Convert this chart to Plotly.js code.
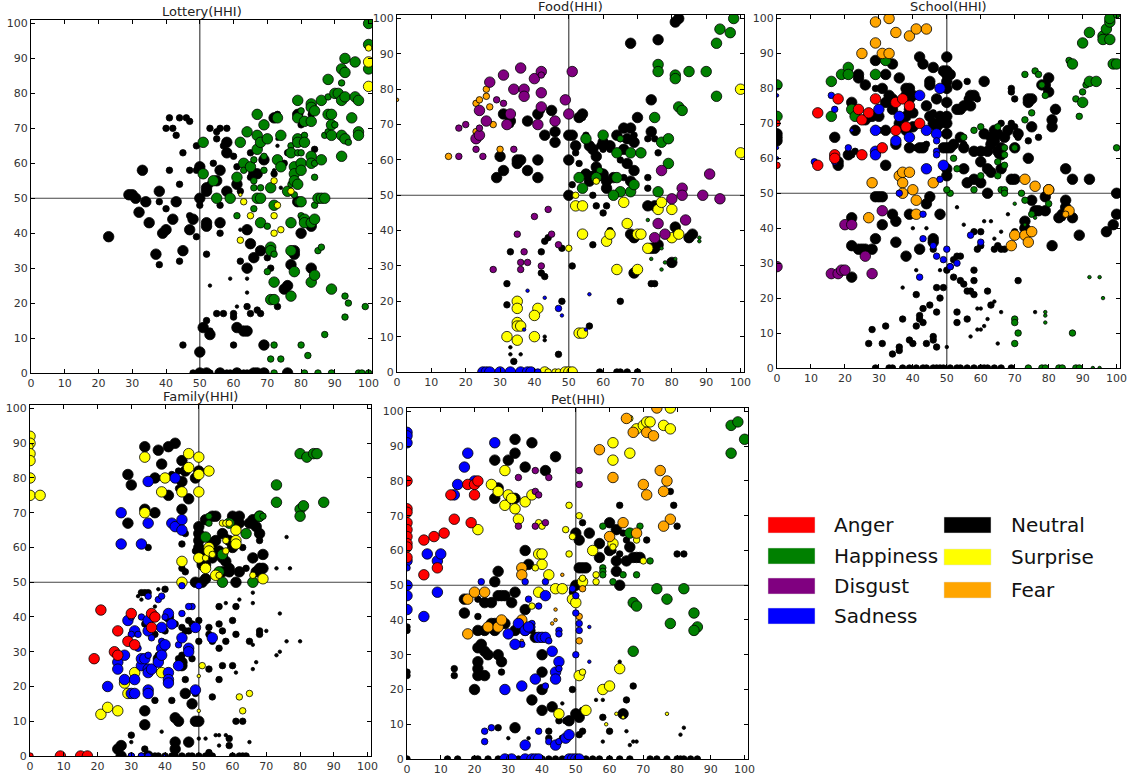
<!DOCTYPE html>
<html>
<head>
<meta charset="utf-8">
<script src="https://cdn.plot.ly/plotly-3.0.1.min.js"></script>
<style>
  body { margin: 0; background: #fff; }
  #graph { width: 1130px; height: 781px; }
</style>
</head>
<body>
<div id="graph"></div>
<script>
// Emotion categories and their colours
const emotions = ['Anger', 'Happiness', 'Disgust', 'Sadness', 'Neutral', 'Surprise', 'Fear'];
const emotionColors = ['#ff0000', '#008000', '#800080', '#0000ff', '#000000', '#ffff00', '#ffa500'];

// Each point: [x HHI, y HHI, size class 1..3]

// Lottery
const lotteryNeutral = [[23,39,3],[29,51,3],[30,51,3],[31,50,3],[32,46,3],[33,58,3],[34,49,3],[35,43,3],[37,34,3],[38,52,3],[38,49,2],[38,31,2],[39,40,3],[40,41,3],[40,70,2],[40,47,2],[41,73,2],[41,58,2],[42,44,3],[42,70,2],[43,49,3],[43,68,2],[44,73,2],[44,54,2],[44,32,2],[45,63,2],[45,35,3],[45,8,2],[46,73,2],[47,72,2],[47,58,2],[47,45,2],[47,41,3],[48,44,3],[49,58,2],[49,65,2],[49,39,2],[50,59,3],[50,50,3],[50,48,2],[50,6,3],[51,13,3],[52,15,2],[52,52,3],[52,53,3],[52,43,3],[52,42,3],[52,34,2],[53,11,3],[53,12,2],[53,70,2],[53,54,2],[54,60,2],[55,55,3],[55,17,2],[55,69,2],[55,67,2],[56,58,3],[56,70,2],[56,43,3],[56,40,2],[56,48,2],[57,65,2],[57,17,2],[58,66,3],[58,63,3],[58,52,3],[58,70,2],[60,62,2],[60,17,2],[60,16,2],[60,8,2],[61,54,3],[61,59,2],[61,13,3],[62,32,2],[62,52,2],[63,12,3],[64,12,3],[64,41,3],[64,30,3],[64,19,2],[65,63,2],[65,56,2],[65,37,3],[65,17,2],[66,57,3],[66,33,3],[67,57,3],[67,18,2],[68,35,3],[68,17,2],[69,61,3],[69,8,3],[70,33,2],[71,30,2],[72,73,3],[72,57,2],[73,74,2],[73,19,2],[75,60,2],[75,24,3],[76,63,2],[76,25,3],[77,31,3],[78,34,3],[78,35,3],[79,74,3],[80,71,2],[79,49,3],[80,40,3],[83,30,3],[83,42,3],[83,74,2],[84,64,2],[48,0,2],[50,0,3],[51,0,2],[52,0,3],[53,0,2],[56,0,3],[58,0,2],[59,0,2],[61,0,3],[63,0,2],[64,0,2],[65,0,2],[66,0,3],[67,0,3],[68,0,2],[69,0,3],[76,0,3],[53,25,1],[59,27,1],[61,19,1],[64,27,1],[64,23,1],[62,41,1],[73,67,1],[73,65,1],[74,53,1],[72,58,1]];
const lotteryHappiness = [[51,66,3],[51,57,3],[54,55,3],[55,50,3],[59,50,3],[61,56,3],[61,45,2],[62,66,3],[63,60,3],[63,58,2],[64,69,3],[65,59,3],[66,61,2],[66,55,2],[66,53,2],[66,47,2],[67,74,3],[67,68,3],[67,64,3],[67,50,3],[68,66,3],[68,53,2],[68,50,3],[68,43,3],[69,71,3],[69,58,2],[69,62,2],[70,67,3],[70,42,2],[70,29,2],[71,53,3],[71,36,3],[71,35,3],[71,21,3],[72,21,3],[72,48,3],[72,34,2],[72,26,3],[72,8,2],[71,4,2],[73,73,3],[73,61,3],[74,68,3],[74,59,3],[74,4,2],[76,52,3],[77,65,2],[77,63,3],[77,54,2],[77,43,3],[77,35,3],[77,22,3],[78,59,3],[78,57,3],[78,55,3],[78,51,2],[78,29,3],[79,78,3],[79,73,3],[79,67,3],[79,66,3],[79,63,2],[79,54,3],[79,49,2],[80,75,2],[80,63,2],[80,60,3],[80,58,3],[80,49,3],[80,45,2],[81,72,3],[81,68,2],[81,66,3],[81,44,3],[81,43,3],[80,8,2],[82,5,2],[83,77,3],[83,76,3],[83,72,3],[83,62,3],[83,60,3],[83,43,3],[83,26,3],[84,75,3],[84,60,2],[84,56,2],[84,48,2],[84,44,3],[84,28,3],[85,35,2],[85,50,3],[86,78,3],[86,61,3],[86,50,3],[86,36,2],[87,68,2],[87,50,3],[87,11,2],[88,84,3],[88,74,3],[88,79,2],[88,69,2],[89,74,3],[89,71,3],[89,68,3],[89,24,3],[90,71,2],[90,80,3],[91,80,3],[92,87,3],[92,83,2],[92,78,3],[92,68,3],[92,62,3],[93,90,3],[93,86,3],[93,79,3],[93,67,3],[94,66,2],[93,22,2],[93,16,2],[94,20,2],[95,73,3],[96,89,3],[96,79,3],[97,78,3],[97,69,3],[97,68,3],[99,19,2],[100,100,3],[100,94,3],[100,87,3],[81,0,2],[85,0,2],[89,0,2],[97,0,2],[98,0,2],[100,0,2],[72,0,2]];
const lotterySurprise = [[62,51,1],[62,38,2],[63,49,2],[65,45,2],[72,55,2],[72,45,2],[72,40,2],[73,48,2],[74,41,2],[77,52,2],[100,93,2],[100,89,3],[100,82,3]];

// Food
const foodNeutral = [[29,55,3],[30,61,3],[31,73,3],[31,57,3],[33,71,3],[33,70,2],[35,60,3],[35,59,3],[36,60,3],[38,71,3],[38,57,3],[41,73,3],[41,60,3],[41,55,3],[42,74,2],[43,67,3],[45,74,3],[46,68,3],[46,65,3],[50,67,3],[50,60,3],[50,50,3],[51,67,3],[51,53,2],[52,64,3],[52,62,2],[53,72,3],[53,59,2],[54,73,3],[54,72,2],[55,67,2],[55,56,3],[56,64,3],[56,54,3],[57,63,3],[57,56,2],[57,50,2],[58,61,3],[58,58,3],[58,47,2],[59,55,2],[59,64,2],[60,65,3],[60,63,2],[60,56,3],[60,45,2],[61,54,3],[61,52,3],[61,47,2],[62,64,3],[62,63,2],[62,40,2],[63,55,3],[64,67,3],[64,62,2],[65,60,2],[65,66,2],[66,69,3],[66,63,3],[66,55,2],[67,66,3],[67,59,3],[68,69,3],[68,62,2],[68,54,3],[68,39,3],[69,53,2],[69,67,2],[69,65,3],[69,57,3],[69,38,3],[69,28,3],[70,72,3],[68,93,3],[74,77,3],[74,68,3],[75,66,2],[73,66,2],[73,55,2],[73,52,2],[73,47,3],[75,47,3],[74,35,3],[75,35,3],[76,36,3],[76,62,2],[76,94,3],[74,25,2],[75,25,2],[81,99,3],[82,100,3],[81,41,3],[80,31,3],[85,38,3],[86,39,3],[42,34,2],[42,28,2],[43,27,2],[43,37,2],[44,38,2],[48,35,2],[48,20,2],[51,30,2],[33,34,2],[32,25,2],[32,19,2],[43,10,1],[43,9,1],[33,5,1],[33,7,1],[36,5,1],[34,3,2],[47,5,2],[56,13,2],[57,36,2],[65,20,2],[59,0,2],[64,0,2],[65,0,2],[67,0,2],[70,0,2]];
const foodHappiness = [[98,100,3],[94,97,3],[97,96,3],[93,93,3],[76,87,3],[76,85,3],[81,84,3],[81,83,3],[85,85,3],[90,85,3],[93,78,3],[82,75,3],[83,74,3],[75,72,3],[77,65,3],[79,66,3],[79,59,3],[55,66,3],[60,67,3],[59,57,2],[58,55,3],[53,55,3],[54,52,3],[64,62,3],[64,55,3],[65,66,2],[65,51,3],[63,50,3],[68,62,3],[68,51,3],[69,53,3],[71,62,3],[76,51,3],[73,43,1],[74,32,1],[77,35,1],[77,29,1],[78,31,1],[81,32,1],[88,38,1],[88,37,1]];
const foodDisgust = [[18,69,2],[18,61,2],[20,70,2],[23,66,3],[23,63,2],[24,67,3],[24,69,2],[24,74,3],[25,61,2],[26,71,3],[27,82,3],[29,77,2],[31,84,3],[31,76,2],[32,70,3],[33,73,3],[34,80,3],[34,63,2],[36,86,3],[37,80,3],[37,78,3],[40,83,3],[41,70,3],[42,85,3],[42,84,2],[42,79,3],[42,75,3],[46,71,3],[49,77,3],[50,73,3],[51,85,3],[40,44,2],[44,46,2],[45,39,2],[35,39,2],[36,31,2],[36,29,2],[37,34,2],[38,31,2],[28,29,2],[42,30,2],[47,36,2],[77,57,3],[91,56,3],[83,52,3],[83,50,3],[80,49,3],[89,50,3],[94,49,3],[76,42,3],[84,43,3],[75,38,3],[78,39,3]];
const foodFear = [[15,61,2],[23,76,2],[24,77,2],[26,80,2],[26,78,2],[27,75,2],[28,70,2],[30,63,2],[23,68,2],[24,67,2],[0,77,1]];
const foodSurprise = [[100,80,3],[100,62,3],[52,50,2],[52,47,3],[54,47,3],[54,39,3],[58,54,2],[50,35,2],[66,48,3],[67,42,3],[70,39,3],[71,39,3],[73,35,3],[64,29,3],[70,29,3],[61,37,3],[62,39,3],[76,46,3],[77,48,3],[80,46,3],[80,38,3],[82,39,3],[35,20,3],[35,18,3],[35,14,3],[35,13,3],[36,13,3],[41,18,3],[40,16,3],[32,10,3],[35,9,3],[40,10,3],[53,11,3],[54,11,3],[43,0,3],[44,0,2],[46,0,2],[47,0,2],[49,0,3],[50,0,3],[51,0,3]];
const foodSadness = [[25,0,3],[26,0,3],[27,0,3],[30,0,3],[33,0,3],[36,0,3],[38,0,3],[39,0,3],[41,0,2],[38,23,1],[43,21,1],[47,18,2],[48,16,1],[56,22,1],[55,12,1],[37,12,1]];

// School
const schoolNeutral = [[0,67,3],[0,66,3],[0,65,3],[17,66,3],[18,59,3],[18,58,3],[21,61,3],[22,76,3],[22,61,2],[23,68,3],[23,62,2],[24,84,3],[24,83,3],[26,81,3],[26,71,3],[27,72,3],[28,72,3],[29,88,3],[29,80,2],[30,68,2],[30,72,3],[31,80,3],[32,84,3],[32,76,3],[33,78,3],[32,68,3],[32,58,3],[34,87,3],[34,77,3],[34,74,3],[35,64,3],[36,83,3],[36,70,3],[37,69,3],[38,80,3],[38,78,3],[38,72,3],[38,68,3],[39,80,3],[39,77,3],[39,74,3],[39,63,3],[40,78,3],[40,73,3],[40,69,3],[41,63,2],[42,89,3],[42,63,3],[43,87,3],[43,63,3],[44,75,3],[44,64,2],[45,82,3],[45,81,3],[45,72,3],[46,86,3],[46,73,2],[46,70,3],[47,77,3],[47,69,3],[48,72,3],[48,70,3],[49,85,3],[49,71,3],[49,63,3],[50,89,3],[50,85,3],[50,84,3],[50,82,3],[50,80,3],[50,76,3],[50,72,3],[50,70,3],[50,67,3],[50,63,3],[50,57,3],[50,55,3],[51,84,3],[51,63,3],[52,64,3],[53,81,3],[53,74,3],[54,74,3],[54,66,3],[55,75,3],[55,64,2],[55,63,3],[55,57,3],[56,82,2],[56,77,2],[56,53,3],[57,75,3],[57,78,3],[58,78,3],[58,62,3],[58,54,3],[59,77,2],[60,62,3],[60,59,3],[60,53,3],[61,82,3],[61,67,3],[62,62,3],[62,57,3],[62,50,3],[63,56,3],[63,66,3],[63,64,3],[64,68,3],[64,65,3],[65,67,3],[65,62,3],[65,61,2],[66,70,2],[66,63,3],[66,61,3],[66,57,3],[67,66,3],[68,68,3],[69,80,2],[69,79,2],[69,54,3],[69,70,2],[70,63,3],[70,54,3],[70,77,2],[70,69,2],[71,67,3],[71,66,2],[74,77,3],[74,76,3],[74,65,2],[74,60,3],[75,77,3],[75,69,3],[75,48,3],[76,45,3],[77,45,3],[77,66,2],[78,81,3],[79,81,3],[79,45,3],[79,49,3],[80,83,3],[80,79,3],[80,51,3],[81,71,3],[81,69,3],[81,35,3],[82,74,3],[83,43,3],[84,44,3],[84,43,2],[85,48,3],[85,46,3],[85,57,3],[87,54,3],[87,43,3],[92,54,3],[89,38,3],[97,39,3],[99,41,3],[100,50,3],[100,44,3],[73,42,3],[73,40,3],[34,44,3],[35,42,3],[35,36,3],[39,44,3],[29,49,3],[30,49,3],[31,49,3],[31,41,3],[29,37,3],[22,43,3],[22,35,3],[24,34,3],[25,34,3],[26,34,3],[28,34,3],[22,26,3],[38,32,3],[42,34,3],[44,47,3],[45,49,3],[46,37,3],[46,36,3],[46,34,2],[48,44,3],[49,23,2],[50,28,2],[51,29,2],[52,31,2],[52,26,2],[53,32,2],[54,32,2],[54,25,2],[55,24,2],[56,22,2],[57,22,2],[58,21,2],[58,28,2],[58,25,2],[58,39,2],[59,34,2],[60,35,2],[61,42,1],[63,42,1],[64,34,2],[65,35,2],[66,34,2],[68,44,1],[70,39,2],[70,38,2],[55,41,1],[48,43,1],[40,40,1],[44,40,1],[37,23,1],[41,28,1],[47,23,2],[48,20,2],[47,16,2],[45,18,2],[43,17,2],[41,21,2],[42,15,2],[42,14,2],[43,13,2],[41,12,2],[39,8,2],[40,7,2],[37,14,2],[36,6,2],[36,5,2],[34,4,2],[32,12,2],[31,7,2],[27,7,2],[28,11,2],[44,7,2],[46,9,2],[46,8,2],[47,6,2],[50,6,1],[48,28,1],[53,16,2],[53,13,2],[56,14,2],[59,17,1],[60,17,1],[59,11,1],[60,11,1],[57,9,1],[61,12,1],[62,14,1],[62,22,2],[63,18,2],[64,19,1],[66,16,1],[65,7,1],[71,25,2],[76,16,1],[66,39,1],[67,34,2],[64,37,1],[53,46,1],[60,39,2],[29,0,2],[33,0,2],[34,0,2],[37,0,2],[39,0,2],[41,0,2],[43,0,2],[44,0,2],[46,0,2],[47,0,2],[48,0,2],[49,0,2],[51,0,2],[53,0,2],[54,0,2],[56,0,2],[58,0,2],[60,0,2],[61,0,2],[62,0,2],[64,0,2],[66,0,2],[69,0,2]];
const schoolHappiness = [[0,81,3],[0,72,3],[16,82,3],[19,84,3],[21,86,3],[21,84,3],[16,72,3],[22,74,3],[23,72,3],[29,84,3],[32,88,3],[52,60,2],[51,50,2],[50,51,2],[53,57,2],[55,66,2],[58,68,2],[60,69,2],[60,55,2],[58,51,2],[65,69,2],[65,59,2],[65,55,2],[67,63,2],[67,61,2],[67,58,2],[66,51,2],[67,51,2],[67,50,2],[70,63,2],[72,50,2],[73,48,2],[73,41,1],[75,44,2],[76,43,1],[78,81,2],[79,78,2],[75,73,2],[73,71,2],[73,84,2],[76,85,2],[77,84,2],[80,47,2],[86,88,2],[87,87,3],[88,77,2],[89,72,2],[90,79,2],[90,76,3],[91,81,2],[92,82,3],[94,82,3],[92,96,3],[90,93,3],[96,95,3],[96,94,3],[97,97,3],[98,99,3],[98,94,3],[98,100,3],[100,101,2],[99,87,3],[100,87,3],[100,63,2],[92,26,1],[95,26,1],[96,20,1],[79,16,1],[79,15,1],[79,13,1],[70,14,2],[70,13,2],[71,10,2],[70,7,2],[87,10,2],[74,0,2],[78,0,2],[79,0,2],[83,0,2],[84,0,2],[88,0,2],[89,0,2],[93,0,1],[95,0,1],[70,47,1]];
const schoolFear = [[29,99,3],[33,100,3],[35,96,3],[39,95,3],[41,97,3],[44,97,3],[29,93,3],[31,90,3],[33,90,3],[25,90,3],[28,53,3],[27,43,3],[36,55,3],[37,56,3],[39,56,3],[37,53,3],[37,50,3],[40,51,3],[41,48,3],[41,44,3],[46,53,3],[70,38,3],[73,38,3],[74,36,3],[75,39,3],[73,54,3],[76,52,3],[80,51,3],[69,35,3],[86,45,3],[85,44,2]];
const schoolAnger = [[0,70,2],[0,58,2],[12,73,3],[12,58,3],[17,61,3],[17,60,3],[18,77,3],[24,74,3],[25,71,3],[25,61,3],[27,73,3],[29,77,3],[31,63,3],[35,76,3],[35,68,3],[37,77,3],[38,69,3],[39,75,3],[42,70,3]];
const schoolSadness = [[0,78,1],[0,63,1],[0,60,1],[11,59,2],[16,78,2],[17,74,2],[17,59,2],[21,63,2],[22,68,1],[29,68,3],[29,62,3],[29,61,3],[30,74,3],[35,65,3],[36,72,3],[39,66,3],[42,78,3],[44,68,3],[44,57,3],[47,67,3],[47,65,2],[47,62,2],[47,61,2],[48,54,2],[48,80,3],[49,58,3],[36,50,2],[43,44,2],[43,37,2],[46,35,2],[47,32,2],[49,31,2],[50,34,2],[51,29,2],[53,30,2],[57,38,2],[60,36,2],[42,26,2]];
const schoolDisgust = [[0,29,3],[16,27,3],[18,27,3],[19,28,3],[20,28,3],[28,27,3],[26,32,3],[20,41,3],[22,41,3],[31,45,3]];

// Family
const familyNeutral = [[34,89,3],[38,88,3],[41,89,3],[43,90,3],[39,84,3],[45,85,3],[29,81,3],[30,78,3],[37,80,3],[42,81,2],[44,82,2],[44,77,2],[45,79,3],[46,82,3],[49,80,3],[50,82,3],[41,75,3],[47,74,3],[34,71,3],[37,70,3],[45,71,3],[29,67,3],[35,60,2],[46,64,2],[45,61,2],[46,53,2],[45,54,2],[49,59,2],[50,66,3],[50,64,3],[50,62,3],[50,60,3],[50,59,3],[51,57,3],[51,56,3],[51,55,3],[52,55,3],[52,51,3],[51,50,3],[49,50,3],[52,68,3],[54,69,3],[54,61,3],[54,57,3],[55,69,3],[55,62,3],[56,59,3],[57,57,3],[57,64,3],[57,53,3],[58,63,2],[58,56,3],[59,54,3],[59,53,3],[59,62,3],[60,60,3],[60,69,3],[61,50,3],[62,69,3],[62,67,3],[62,53,3],[63,60,2],[64,54,2],[65,67,3],[66,68,3],[66,67,3],[66,57,3],[67,66,3],[67,53,3],[68,54,3],[68,64,3],[68,62,2],[68,69,3],[69,58,3],[69,54,3],[76,63,1],[73,54,1],[77,54,1],[33,47,2],[34,47,2],[35,47,2],[32,46,1],[33,45,1],[38,48,1],[40,48,2],[37,43,1],[34,38,2],[37,35,2],[37,16,2],[38,29,2],[38,28,3],[40,36,2],[41,40,3],[42,16,2],[42,39,1],[43,38,2],[43,11,3],[44,10,3],[44,28,2],[45,29,2],[45,27,3],[45,26,3],[45,37,2],[46,36,2],[46,22,2],[46,18,3],[47,39,2],[47,36,2],[47,4,3],[48,15,3],[48,28,2],[48,38,2],[49,10,3],[50,10,3],[50,39,2],[50,33,2],[49,18,2],[53,37,2],[53,35,2],[53,25,2],[54,33,2],[54,17,2],[53,1,2],[52,5,1],[55,6,1],[56,6,1],[56,43,2],[56,38,2],[56,31,2],[56,22,2],[57,36,2],[57,26,2],[58,44,1],[58,33,2],[58,6,1],[59,5,2],[59,3,2],[60,39,2],[60,26,2],[61,35,2],[61,43,2],[61,24,1],[61,10,2],[62,45,1],[63,10,2],[65,33,2],[65,4,1],[66,47,1],[66,44,1],[66,25,1],[66,32,1],[67,27,1],[68,36,2],[68,35,2],[70,36,1],[73,29,1],[74,30,1],[74,41,1],[76,33,1],[80,33,1],[43,4,3],[43,2,3],[39,7,1],[34,13,3],[34,9,3],[30,6,2],[30,4,1],[27,3,3],[26,2,3],[34,2,2],[56,3,1],[50,5,1],[27,0,3],[30,0,2],[33,0,2],[35,0,3],[37,0,2],[38,0,2],[40,0,2],[42,0,2],[43,0,2],[45,0,2],[47,0,2],[48,0,2],[50,0,2],[52,0,2],[54,0,2],[60,0,2],[62,0,2],[63,0,2],[64,0,2]];
const familyHappiness = [[80,87,3],[82,86,3],[84,87,3],[85,87,3],[73,78,3],[73,73,3],[80,71,3],[81,72,3],[80,69,3],[87,73,3],[68,69,3],[69,69,2],[64,64,3],[52,63,3],[53,69,2],[53,67,2],[59,67,3],[57,58,3],[56,53,3],[57,50,3],[66,50,3]];
const familySadness = [[27,70,3],[27,61,3],[33,61,3],[35,79,3],[35,67,3],[42,67,3],[43,66,3],[43,80,3],[45,68,3],[45,65,3],[35,46,2],[38,45,2],[39,46,2],[45,49,2],[50,49,2],[48,43,2],[29,39,3],[30,40,2],[31,36,3],[30,35,2],[32,35,2],[32,31,2],[33,40,2],[33,27,2],[33,26,3],[33,28,3],[34,28,3],[35,39,3],[35,36,3],[35,29,2],[35,25,3],[35,24,3],[35,19,3],[35,18,3],[36,25,3],[36,34,2],[38,27,3],[39,37,3],[39,33,2],[39,31,3],[39,29,3],[40,32,3],[41,41,3],[40,40,2],[41,24,3],[41,22,3],[41,21,3],[42,38,3],[44,32,2],[44,26,3],[45,34,3],[45,41,2],[47,31,3],[47,30,3],[49,37,3],[49,19,3],[47,43,2],[54,34,3],[26,27,3],[26,25,3],[28,29,3],[28,22,3],[31,22,3],[30,18,3],[31,18,3],[23,20,3],[30,0,2],[33,0,2],[35,0,2],[40,0,1]];
const familyAnger = [[21,42,3],[19,28,3],[25,30,3],[26,29,3],[26,36,3],[29,33,3],[30,41,3],[31,32,3],[36,41,3],[36,37,3],[37,40,3],[0,0,2],[9,0,3],[15,0,3],[17,0,3]];
const familySurprise = [[0,92,3],[0,90,3],[0,89,2],[0,87,3],[0,85,3],[0,80,3],[0,75,3],[3,75,3],[34,86,3],[34,70,3],[39,76,3],[40,80,3],[45,76,3],[47,87,3],[47,83,3],[50,86,3],[50,81,3],[50,76,3],[53,82,3],[45,56,3],[45,50,3],[50,57,3],[52,54,3],[52,57,2],[53,60,3],[53,59,3],[54,58,2],[55,52,3],[56,52,2],[57,67,2],[58,67,2],[58,62,2],[58,59,2],[61,65,3],[61,62,3],[61,61,3],[66,52,2],[69,51,3],[59,67,2],[21,12,3],[23,14,3],[26,13,3],[28,21,3],[29,18,3],[31,24,3],[39,24,3],[51,26,2],[50,23,1],[50,13,1],[62,17,2],[63,13,2],[65,18,2]];

// Pet
const petNeutral = [[32,92,3],[37,91,3],[32,88,3],[26,86,3],[30,86,3],[44,87,3],[35,84,3],[41,83,3],[27,78,3],[26,75,3],[32,75,3],[30,74,2],[50,65,3],[51,63,3],[52,68,2],[51,55,3],[52,55,3],[53,55,3],[54,65,3],[57,62,3],[57,58,3],[60,68,3],[60,60,3],[61,60,2],[62,66,3],[62,57,3],[62,54,3],[63,50,3],[63,59,2],[63,73,2],[64,65,2],[65,57,3],[65,63,2],[66,61,3],[67,58,3],[68,58,3],[69,58,3],[71,63,2],[78,77,2],[79,73,2],[80,67,2],[80,59,2],[82,59,2],[50,50,3],[49,48,2],[35,60,3],[36,56,3],[27,54,3],[26,51,3],[17,46,3],[21,46,2],[23,45,3],[25,45,3],[27,47,3],[28,47,3],[29,47,3],[31,45,3],[32,48,3],[35,43,3],[17,42,3],[21,41,2],[21,37,3],[23,37,3],[25,39,3],[26,39,3],[26,37,3],[29,39,3],[32,37,3],[35,37,3],[37,37,2],[38,35,3],[21,32,3],[22,33,3],[23,31,3],[24,30,3],[27,30,3],[28,28,3],[21,28,3],[21,26,3],[21,24,3],[23,24,3],[20,20,3],[28,25,2],[14,26,2],[14,24,2],[0,38,2],[0,37,2],[0,25,2],[0,24,2],[40,30,3],[40,25,3],[40,20,3],[37,17,3],[40,14,3],[43,15,3],[45,11,2],[47,11,2],[48,11,3],[49,20,2],[50,13,3],[51,12,3],[51,7,2],[52,14,2],[52,8,2],[27,9,2],[32,9,3],[30,6,1],[36,6,1],[42,8,2],[42,6,2],[46,6,2],[46,16,1],[56,17,1],[58,17,1],[58,12,2],[58,5,1],[64,13,3],[65,17,2],[65,8,1],[66,4,1],[67,21,2],[67,5,1],[68,5,1],[60,8,2],[81,7,1],[82,9,1],[63,28,1],[0,0,2],[12,0,2],[15,0,2],[20,0,2],[21,0,2],[24,0,2],[27,0,2],[33,0,2],[40,0,2],[42,0,2],[44,0,2],[46,0,2],[53,0,2],[55,0,2],[57,0,2],[60,0,2],[63,0,2],[66,0,2],[72,0,2],[74,0,2],[77,0,2],[80,0,2],[81,0,2],[82,0,2],[84,0,2],[86,0,2]];
const petHappiness = [[96,96,3],[98,97,3],[100,92,3],[96,88,3],[58,67,2],[66,65,3],[69,67,2],[72,57,2],[58,55,2],[58,54,2],[58,53,2],[61,51,2],[64,53,2],[68,53,2],[52,50,2],[74,49,3],[82,49,3],[77,46,3],[67,45,3],[68,44,3],[78,39,3],[85,42,3],[86,38,3],[85,37,3],[67,31,3]];
const petSadness = [[0,94,3],[0,93,3],[0,91,3],[0,57,3],[0,55,2],[0,50,3],[0,47,3],[0,43,3],[26,91,3],[18,88,3],[17,84,3],[15,79,3],[14,76,3],[20,80,3],[6,59,3],[9,57,3],[10,59,3],[9,48,3],[5,41,3],[22,51,2],[35,51,2],[41,51,2],[49,49,2],[50,47,2],[50,42,2],[51,39,2],[51,37,2],[54,38,1],[54,28,1],[36,46,2],[41,47,3],[39,44,2],[37,39,2],[37,38,2],[33,39,3],[35,37,3],[36,38,3],[34,33,2],[30,36,3],[32,33,3],[39,35,3],[40,35,3],[41,35,3],[42,34,2],[43,31,3],[44,25,3],[44,23,3],[45,28,3],[45,26,2],[38,23,3],[34,21,3],[29,20,3],[41,21,2],[39,8,2],[42,5,2],[44,4,3],[45,5,2],[47,6,3],[48,7,3],[23,8,2],[25,9,2],[23,5,2],[35,4,3],[50,30,2],[45,37,2],[45,36,2],[29,0,3],[31,0,3],[35,0,3],[37,0,3],[38,0,3],[39,0,3],[48,0,3],[49,0,3],[50,0,3],[51,0,3]];
const petAnger = [[0,80,3],[0,72,3],[0,71,3],[0,68,3],[0,66,3],[0,64,3],[0,62,3],[0,61,3],[0,58,3],[13,76,3],[18,79,3],[20,79,3],[21,80,3],[20,76,3],[14,69,3],[19,68,3],[11,65,3],[8,64,3],[5,63,3],[5,53,3],[9,55,3]];
const petDisgust = [[33,81,2],[38,83,2],[42,81,2],[38,77,2],[39,76,2],[51,83,2],[51,79,2],[33,67,2],[38,67,2],[41,68,2]];
const petSurprise = [[25,79,3],[27,77,3],[29,83,3],[29,73,3],[30,76,3],[31,75,3],[32,72,3],[33,69,3],[35,74,3],[37,76,3],[21,66,3],[39,68,2],[40,67,2],[47,66,2],[48,73,2],[48,59,2],[49,64,2],[51,70,2],[39,59,3],[40,59,3],[40,56,3],[42,53,3],[38,55,2],[39,48,3],[44,49,3],[46,49,3],[49,46,3],[50,45,3],[37,44,2],[52,51,3],[52,52,2],[55,60,3],[56,53,2],[56,51,2],[61,62,3],[61,61,2],[60,64,2],[61,91,3],[61,86,3],[66,88,3],[68,95,3],[70,96,3],[71,97,3],[72,97,3],[76,96,3],[78,95,3],[78,101,3],[66,98,2],[68,63,2],[70,57,2],[51,24,3],[52,25,2],[53,14,3],[58,20,3],[60,21,3],[63,26,3],[45,13,3],[77,13,1],[59,10,1],[62,13,1],[64,12,1]];
const petFear = [[65,98,3],[67,94,3],[71,94,3],[73,93,3],[74,101,3],[57,89,3],[61,81,3],[75,83,3],[77,80,3],[70,79,3],[71,76,3],[76,77,3],[78,69,3],[76,67,3],[64,68,3],[68,65,3],[60,64,3],[18,46,3],[20,48,3],[23,48,3],[18,36,3],[24,38,3],[27,38,3],[28,40,3],[34,40,3],[34,55,3],[34,53,3],[46,53,1],[44,43,1],[44,40,1],[43,39,1],[45,36,1],[34,34,1],[51,34,2],[51,41,2],[52,49,2]];

// Panel titles
const panelTitles = ['Lottery(HHI)', 'Food(HHI)', 'School(HHI)', 'Family(HHI)', 'Pet(HHI)'];
const tickVals = [0, 10, 20, 30, 40, 50, 60, 70, 80, 90, 100];

const panelData = [
  {Neutral: lotteryNeutral, Happiness: lotteryHappiness, Surprise: lotterySurprise},
  {Neutral: foodNeutral, Happiness: foodHappiness, Surprise: foodSurprise, Fear: foodFear, Disgust: foodDisgust, Sadness: foodSadness},
  {Neutral: schoolNeutral, Happiness: schoolHappiness, Fear: schoolFear, Disgust: schoolDisgust, Sadness: schoolSadness, Anger: schoolAnger},
  {Neutral: familyNeutral, Happiness: familyHappiness, Surprise: familySurprise, Sadness: familySadness, Anger: familyAnger},
  {Neutral: petNeutral, Happiness: petHappiness, Surprise: petSurprise, Fear: petFear, Disgust: petDisgust, Sadness: petSadness, Anger: petAnger}
];

// plot boxes in pixels [left, top, right, bottom]
const W = 1130, H = 781;
const boxes = [
  [31, 20, 372, 373],
  [397, 15, 744, 372],
  [777, 15, 1120, 368],
  [30, 405, 371, 756],
  [407, 408, 748, 759]
];
const sizePx = {1: 3.5, 2: 6.5, 3: 10.5};
const drawOrder = ['Neutral', 'Happiness', 'Surprise', 'Fear', 'Disgust', 'Sadness', 'Anger'];

const traces = [];
const layout = {
  width: W, height: H,
  margin: {l: 0, r: 0, t: 0, b: 0},
  paper_bgcolor: '#fff', plot_bgcolor: '#fff',
  showlegend: false,
  font: {family: 'DejaVu Sans', color: '#333', size: 11},
  shapes: [], annotations: []
};

panelData.forEach((panel, i) => {
  const n = i === 0 ? '' : String(i + 1);
  const b = boxes[i];
  drawOrder.forEach(emo => {
    const pts = panel[emo];
    if (!pts) return;
    const c = emotionColors[emotions.indexOf(emo)];
    traces.push({
      type: 'scatter', mode: 'markers',
      x: pts.map(p => p[0]), y: pts.map(p => p[1]),
      xaxis: 'x' + n, yaxis: 'y' + n,
      name: emo,
      marker: {color: c, opacity: 1, size: pts.map(p => sizePx[p[2]]), line: {color: '#000', width: 0.8}},
      hoverinfo: 'x+y+name'
    });
  });
  const axBase = {
    range: [0, 101], tickvals: tickVals, ticks: 'inside', ticklen: 4, tickcolor: '#000',
    showline: true, linecolor: '#000', linewidth: 1, mirror: 'ticks',
    showgrid: false, zeroline: false, tickfont: {size: 11, color: '#333'}
  };
  layout['xaxis' + n] = Object.assign({}, axBase, {
    domain: [b[0] / W, b[2] / W], anchor: 'y' + n
  });
  layout['yaxis' + n] = Object.assign({}, axBase, {
    domain: [1 - b[3] / H, 1 - b[1] / H], anchor: 'x' + n
  });
  // quadrant lines at HHI 50
  layout.shapes.push({type: 'line', xref: 'x' + n, yref: 'y' + n + ' domain', x0: 50, x1: 50, y0: 0, y1: 1,
    line: {color: '#444', width: 1.2}, layer: 'below'});
  layout.shapes.push({type: 'line', xref: 'x' + n + ' domain', yref: 'y' + n, x0: 0, x1: 1, y0: 50, y1: 50,
    line: {color: '#444', width: 1.2}, layer: 'below'});
  layout.annotations.push({
    text: panelTitles[i], xref: 'x' + n + ' domain', yref: 'y' + n + ' domain',
    x: 0.5, y: 1, xanchor: 'center', yanchor: 'bottom', showarrow: false,
    font: {size: 13, color: '#222'}, yshift: -1
  });
});

// Legend: two columns of colour swatches
const legendCols = [['Anger', 'Happiness', 'Disgust', 'Sadness'], ['Neutral', 'Surprise', 'Fear']];
const legendX = [[768, 815, 832], [944, 991, 1009]];
const legendRowY = [[525, 556, 586, 616], [525, 557, 590]];
legendCols.forEach((col, ci) => {
  col.forEach((emo, ri) => {
    const cy = legendRowY[ci][ri];
    const c = emotionColors[emotions.indexOf(emo)];
    layout.shapes.push({type: 'rect', xref: 'paper', yref: 'paper',
      x0: legendX[ci][0] / W, x1: legendX[ci][1] / W,
      y0: 1 - (cy + 8) / H, y1: 1 - (cy - 8) / H,
      fillcolor: c, line: {color: '#ddd', width: 0.5}});
    layout.annotations.push({text: emo, xref: 'paper', yref: 'paper',
      x: legendX[ci][2] / W, y: 1 - cy / H, xanchor: 'left', yanchor: 'middle',
      showarrow: false, font: {size: 20, color: '#111'}});
  });
});

Plotly.newPlot('graph', traces, layout, {displayModeBar: false, staticPlot: true});
</script>
</body>
</html>
